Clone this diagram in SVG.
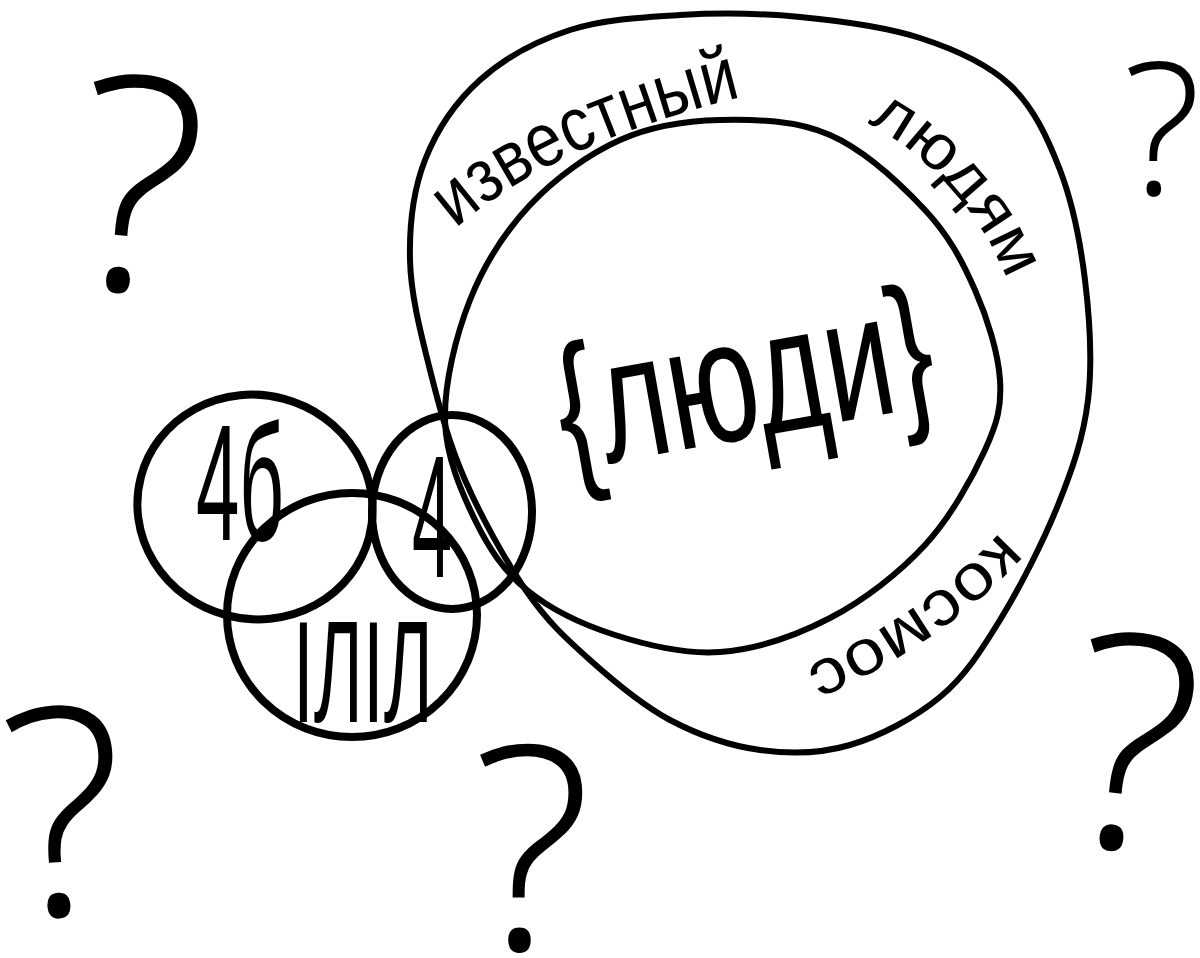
<svg xmlns="http://www.w3.org/2000/svg" width="1200" height="958" viewBox="0 0 1200 958">
<style>
.thin{fill:none;stroke:#000;stroke-width:6;stroke-linecap:round;stroke-linejoin:round}
.thick{fill:none;stroke:#000;stroke-width:8;stroke-linecap:round}
.hand{font-family:"Liberation Sans","DejaVu Sans",sans-serif;fill:#000}
.qm{font-family:"Open Sans","Noto Sans","DejaVu Sans",sans-serif;font-weight:300;fill:#000;text-anchor:middle}
</style>
<defs>
<path id="pIzv" d="M 452,232 Q 555,138 772,90"/>
<path id="pLud" d="M 840,110 A 305 305 0 0 1 1022,330"/>
<path id="pKos" d="M 1002,530 Q 920,620 790,674"/>
</defs>
<rect width="1200" height="958" fill="#fff"/>
<g id="cosmos">
<path class="thin" d="M 527,592 C 506.2,562 481.2,517 465,480 C 448.8,443 439.2,406.7 430,370 C 420.8,333.3 410.8,295 410,260 C 409.2,225 413.3,190 425,160 C 436.7,130 455.8,101.7 480,80 C 504.2,58.3 536.7,40.8 570,30 C 603.3,19.2 641.7,17.2 680,15 C 718.3,12.8 760,13.2 800,17 C 840,20.8 885,26.7 920,38 C 955,49.3 986.7,63 1010,85 C 1033.3,107 1047.5,137.5 1060,170 C 1072.5,202.5 1080.3,241.7 1085,280 C 1089.7,318.3 1092.5,362.5 1088,400 C 1083.5,437.5 1072.7,468.3 1058,505 C 1043.3,541.7 1019.7,588 1000,620 C 980.3,652 965,676.2 940,697 C 915,717.8 880,736.2 850,745 C 820,753.8 790,754.2 760,750 C 730,745.8 698.3,735 670,720 C 641.7,705 613.8,681.3 590,660 C 566.2,638.7 547.8,622 527,592 Z"/>
<text class="hand" font-size="76"><textPath href="#pIzv" startOffset="5" textLength="318" lengthAdjust="spacingAndGlyphs">известный</textPath></text>
<text class="hand" font-size="64"><textPath href="#pLud" startOffset="30" textLength="215" lengthAdjust="spacingAndGlyphs">людям</textPath></text>
<text class="hand" font-size="64"><textPath href="#pKos" startOffset="2" textLength="240" lengthAdjust="spacingAndGlyphs">космос</textPath></text>
</g>
<g id="people">
<path class="thin" d="M 445,420 C 444.2,383.3 455.8,335.8 470,300 C 484.2,264.2 505,231.7 530,205 C 555,178.3 588.3,154.2 620,140 C 651.7,125.8 685,120.8 720,120 C 755,119.2 795.8,120 830,135 C 864.2,150 900.8,184.2 925,210 C 949.2,235.8 962.5,261.7 975,290 C 987.5,318.3 998.3,353.3 1000,380 C 1001.7,406.7 997.5,422.5 985,450 C 972.5,477.5 950.8,517 925,545 C 899.2,573 864.2,600.2 830,618 C 795.8,635.8 755.8,649.2 720,652 C 684.2,654.8 647.2,645.3 615,635 C 582.8,624.7 550.3,609.2 527,590 C 503.7,570.8 488.7,548.3 475,520 C 461.3,491.7 445.8,456.7 445,420 Z"/>
<text class="hand" font-size="175" x="555" y="438" textLength="380" lengthAdjust="spacingAndGlyphs" transform="rotate(-10 745 385)">{люди}</text>
</g>
<g id="c4b">
<ellipse class="thick" cx="255" cy="507" rx="118" ry="112" transform="rotate(15 255 507)"/>
<text class="hand" font-size="165" x="196" y="540" textLength="88" lengthAdjust="spacingAndGlyphs">4б</text>
</g>
<g id="c4">
<ellipse class="thick" cx="452" cy="512" rx="80" ry="97"/>
<text class="hand" font-size="175" x="412" y="577" textLength="40" lengthAdjust="spacingAndGlyphs">4</text>
</g>
<g id="cLL">
<ellipse class="thick" cx="352" cy="615" rx="125" ry="122"/>
<text class="hand" font-size="145" x="293" y="722" textLength="140" lengthAdjust="spacingAndGlyphs">ІЛІЛ</text>
</g>
<g id="questions">
<text class="qm" font-size="300" x="140" y="292" transform="rotate(5 140 180)">?</text>
<text class="qm" font-size="185" x="1162" y="195">?</text>
<text class="qm" font-size="290" x="65" y="915" transform="rotate(-4 65 810)">?</text>
<text class="qm" font-size="285" x="532" y="950">?</text>
<text class="qm" font-size="300" x="1135" y="850" transform="rotate(6 1135 740)">?</text>
</g>
</svg>
